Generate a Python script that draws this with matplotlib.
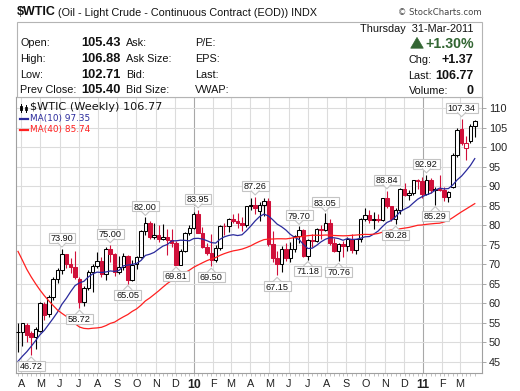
import numpy as np
import pandas as pd
import matplotlib
matplotlib.use("Agg")
import matplotlib.pyplot as plt
from matplotlib.patches import Rectangle, Polygon
from matplotlib.lines import Line2D
import matplotlib.transforms as mtransforms

W, H = 520, 391

# ---------------- data (weekly, from week of 2009-03-30) ----------------
first_monday = "2009-03-30"
opens = [52.6, 52.5, 54.5, 52.3, 51.3, 53.0, 59.8, 57.3, 61.6, 66.3,
         68.5, 72.5, 70.0, 69.2, 66.3, 60.2, 64.0, 68.0, 69.5, 70.9,
         67.5, 73.9, 72.7, 68.0, 69.3, 72.0, 66.0, 70.0, 71.8, 78.5,
         80.5, 77.0, 77.4, 76.4, 77.0, 76.1, 75.5, 69.9, 73.4, 78.0,
         79.4, 82.8, 78.0, 74.5, 72.9, 71.2, 74.1, 79.8, 79.7, 81.5,
         81.2, 80.7, 80.0, 84.9, 85.2, 83.6, 85.2, 86.2, 75.1, 71.6,
         70.0, 74.0, 71.5, 73.8, 77.2, 78.9, 72.1, 76.1, 76.0, 79.0,
         78.9, 80.7, 75.4, 73.5, 75.2, 74.6, 76.5, 73.7, 76.5, 81.6,
         82.7, 81.3, 81.7, 81.4, 86.9, 84.9, 81.5, 83.8, 89.2, 87.8,
         88.4, 91.5, 91.4, 88.0, 91.5, 89.1, 89.3, 89.0, 87.3, 89.7,
         97.9, 104.8, 99.8, 101.5, 105.4]
highs = [54.8, 55.0, 54.9, 52.8, 54.0, 60.3, 60.3, 62.2, 66.6, 69.0,
         73.90, 72.7, 71.5, 73.4, 66.6, 64.4, 68.6, 70.0, 73.2, 71.8,
         74.3, 75.00, 73.0, 72.0, 73.0, 72.4, 71.2, 72.0, 78.9, 82.00,
         81.0, 80.5, 80.0, 80.2, 79.0, 79.0, 75.9, 74.0, 78.2, 80.0,
         83.5, 83.95, 79.6, 75.5, 77.8, 75.0, 80.0, 80.5, 81.9, 82.8,
         83.2, 82.0, 85.0, 87.1, 87.26, 85.9, 87.0, 87.1, 78.5, 73.5,
         74.8, 75.5, 75.8, 77.6, 79.70, 79.0, 76.4, 77.8, 79.4, 80.0,
         83.05, 81.5, 76.7, 75.5, 76.0, 77.0, 77.8, 76.6, 81.8, 84.4,
         84.0, 83.5, 83.0, 87.1, 88.84, 85.0, 84.3, 89.5, 90.8, 89.0,
         91.6, 91.9, 92.5, 92.92, 92.0, 89.8, 93.0, 89.8, 88.8, 98.5,
         105.0, 107.34, 103.0, 106.0, 106.9]
lows = [47.6, 49.0, 50.0, 46.72, 48.2, 52.6, 55.8, 56.5, 60.8, 65.2,
        67.5, 69.0, 67.8, 66.2, 58.72, 59.3, 63.5, 63.0, 69.0, 66.8,
        66.0, 70.5, 67.1, 67.5, 68.5, 65.05, 65.8, 68.8, 71.5, 77.6,
        76.5, 76.5, 75.8, 76.2, 72.4, 74.5, 69.81, 69.85, 73.2, 77.5,
        79.0, 77.9, 74.2, 72.4, 69.50, 70.6, 73.6, 77.4, 78.3, 80.6,
        79.2, 78.6, 79.6, 84.0, 83.0, 81.2, 82.4, 74.8, 70.5, 67.15,
        68.0, 70.8, 70.7, 73.2, 75.4, 71.8, 71.18, 74.5, 75.6, 76.5,
        78.6, 75.0, 73.2, 70.76, 71.8, 73.4, 73.0, 72.6, 75.7, 81.0,
        80.6, 79.0, 80.8, 81.0, 84.5, 81.0, 80.28, 83.0, 87.5, 86.6,
        87.8, 89.3, 87.0, 87.8, 88.4, 85.29, 88.8, 86.2, 86.0, 89.5,
        97.5, 100.5, 96.7, 101.0, 102.71]
closes = [52.5, 54.8, 51.8, 51.3, 53.4, 60.0, 57.0, 61.6, 66.3, 68.5,
          72.6, 70.0, 69.2, 66.8, 60.2, 64.0, 68.1, 69.5, 70.9, 67.5,
          73.9, 72.7, 68.0, 69.3, 72.0, 66.0, 69.9, 71.8, 78.5, 80.5,
          77.0, 77.4, 76.4, 77.0, 76.1, 75.5, 69.9, 73.4, 78.0, 79.4,
          82.8, 78.0, 74.5, 72.9, 71.2, 74.1, 79.8, 79.7, 81.5, 81.2,
          80.7, 80.0, 84.9, 85.0, 84.3, 85.1, 86.2, 75.1, 71.6, 70.0,
          74.0, 71.5, 73.8, 77.2, 78.9, 72.1, 76.1, 76.0, 79.0, 78.9,
          80.7, 75.4, 73.5, 75.2, 74.6, 76.5, 73.7, 76.5, 81.6, 82.7,
          81.3, 81.7, 81.4, 86.9, 84.9, 81.5, 83.8, 89.2, 87.8, 88.4,
          91.5, 91.4, 88.0, 91.5, 89.1, 89.3, 89.0, 87.3, 88.6, 97.9,
          104.4, 101.2, 101.1, 105.4, 106.77]
# weekly closes before the chart window (needed for the moving averages)
prior_closes = [145.3, 145.1, 128.9, 123.3, 125.1, 115.2, 113.8, 114.6, 115.5, 106.2,
                101.2, 104.6, 106.9, 93.9, 77.7, 71.9, 64.2, 67.8, 61.0, 57.0,
                49.9, 54.4, 40.8, 46.3, 42.4, 37.7, 46.3, 40.8, 36.5, 46.5,
                41.7, 40.2, 37.5, 38.9, 44.8, 45.5, 46.3, 51.1, 52.4]
high_label_idx = [10, 21, 29, 41, 54, 64, 70, 84, 93, 101]
low_label_idx = [3, 14, 25, 36, 44, 59, 66, 73, 86, 95]
y_ticks = list(range(45, 111, 5))
month_starts = pd.date_range("2009-04-01", "2011-03-01", freq="MS")

title_symbol = "$WTIC"
title_rest = "(Oil - Light Crude - Continuous Contract (EOD)) INDX"
hdr_labels1 = ["Open:", "High:", "Low:", "Prev Close:"]
hdr_values = ["105.43", "106.88", "102.71", "105.40"]
hdr_labels2 = ["Ask:", "Ask Size:", "Bid:", "Bid Size:"]
hdr_labels3 = ["P/E:", "EPS:", "Last:", "VWAP:"]
hdr_date = "Thursday  31-Mar-2011"
hdr_pct = "+1.30%"
hdr_right = [("Chg:", "+1.37"), ("Last:", "106.77"), ("Volume:", "0")]
legend_main = "$WTIC (Weekly) 106.77"
legend_ma10 = "MA(10) 97.35"
legend_ma40 = "MA(40) 85.74"

# ---------------- styling ----------------
SANS = ["Liberation Sans", "DejaVu Sans"]
VER = ["DejaVu Sans"]
RED = "#d0103a"
MA10_C = "#2a2a9c"
MA40_C = "#ff2020"
GREEN = "#336633"
GRID = "#dcdcdc"
YEAR = "#a8a8a8"

fig = plt.figure(figsize=(W / 100, H / 100), dpi=100)
fig.patch.set_facecolor("white")
PIX = mtransforms.Affine2D().scale(1, -1).translate(0, H)
renderer = fig.canvas.get_renderer()


def ptext(x, y, s, **kw):
    kw.setdefault("va", "center")
    kw.setdefault("parse_math", False)
    return fig.text(x, y, s, transform=PIX, **kw)


# ---------------- header ----------------
fig.add_artist(Rectangle((16.5, 21.5), 465.5, 75.5, transform=PIX,
                         fc="white", ec="#b4b4b4", lw=0.8))
t_sym = ptext(16.5, 12, title_symbol, family=SANS, fontsize=9.0, weight="bold",
              color="#111")
sym_w = t_sym.get_window_extent(renderer).width
ptext(16.5 + sym_w + 2.5, 12.5, title_rest, family=SANS, fontsize=7.8, color="#111")
ptext(481.5, 12.5, "\u00a9 StockCharts.com", family=VER, fontsize=6.1,
      color="#444", ha="right")

rows_y = [43.5, 59.5, 75.5, 90.0]
for y, a, b, c, d in zip(rows_y, hdr_labels1, hdr_values, hdr_labels2, hdr_labels3):
    ptext(20.5, y, a, family=SANS, fontsize=7.8, color="#111")
    ptext(81.5, y, b, family=SANS, fontsize=9.3, weight="bold", color="#111")
    ptext(126, y, c, family=SANS, fontsize=7.8, color="#111")
    ptext(195, y, d, family=SANS, fontsize=7.8, color="#111")

ptext(473.5, 29.5, hdr_date, family=SANS, fontsize=7.8, color="#111", ha="right")
fig.add_artist(Polygon([(410.7, 48.2), (417.0, 37.4), (423.3, 48.2)], closed=True,
                       transform=PIX, fc=GREEN, ec=GREEN, lw=0.5))
ptext(473.5, 43.5, hdr_pct, family=SANS, fontsize=10.2, weight="bold",
      color=GREEN, ha="right")
for y, (lab, val) in zip([60, 76, 90.5], hdr_right):
    ptext(408.5, y, lab, family=SANS, fontsize=7.8, color="#111")
    ptext(473.5, y, val, family=SANS, fontsize=9.0, weight="bold",
          color="#111", ha="right")

# ---------------- price chart ----------------
ax = fig.add_axes([16 / W, 1 - 373 / H, 466 / W, 276 / H])
ax.set_facecolor("white")
ref = pd.Timestamp("2010-01-01")
dates = pd.date_range(first_monday, periods=len(closes), freq="7D")
xs = np.array([(d - ref).days - 3.5 for d in dates], dtype=float)
ax.set_xlim(-283.7, 459.0)
ax.set_ylim(42.1, 112.9)

month_pos = [(m - ref).days for m in month_starts]
month_lab = [str(m.year)[2:] if m.month == 1 else m.strftime("%b")[0] for m in month_starts]
for m, mp in zip(month_starts, month_pos):
    ax.axvline(mp, color=YEAR if m.month == 1 else GRID, lw=0.8, zorder=0)
for v in y_ticks:
    ax.axhline(v, color=GRID, lw=0.8, zorder=0)

bw = 5.6
prev = prior_closes[-1]
for x, o, h, l, c in zip(xs, opens, highs, lows, closes):
    col = RED if c < prev else "black"
    ax.vlines(x, l, h, color=col, lw=0.8, zorder=3)
    bottom = min(o, c)
    height = max(abs(c - o), 0.18)
    face = "white" if c >= o else col
    ax.add_patch(Rectangle((x - bw / 2, bottom), bw, height, fc=face, ec=col,
                           lw=0.75, zorder=3.5))
    prev = c

allc = pd.Series(prior_closes + closes)
n0 = len(prior_closes)
ma10 = allc.rolling(10).mean().values[n0:]
ma40 = allc.rolling(40).mean().values[n0:]
ax.plot(xs, ma10, color=MA10_C, lw=0.9, zorder=4)
ax.plot(xs, ma40, color=MA40_C, lw=0.9, zorder=4)

ax.yaxis.tick_right()
ax.set_yticks(y_ticks)
ax.set_yticklabels([str(v) for v in y_ticks], family=SANS, fontsize=7.8, color="#222")
ax.tick_params(axis="y", length=3, width=0.6, color="#999999", pad=2)
ax.set_xticks(month_pos)
ax.set_xticklabels(month_lab, family=SANS, fontsize=7.8, color="#222")
for lbl, t in zip(ax.get_xticklabels(), month_lab):
    if t.isdigit():
        lbl.set_fontweight("bold")
        lbl.set_fontsize(8.8)
ax.tick_params(axis="x", which="major", length=0, pad=4.5)
ax.set_xticks(xs, minor=True)
ax.tick_params(axis="x", which="minor", length=2, width=0.5, color="#aaaaaa")
for sp in ax.spines.values():
    sp.set_color("#a0a0a0")
    sp.set_linewidth(0.8)

# ---------------- legend inside plot ----------------
icon = [((20.0, 105.5), 2.4, 4.5, "black"), ((24.6, 106.5), 2.4, 3.0, "white")]
for (x0, y0), w, hh, fc in icon:
    cx = x0 + w / 2
    fig.add_artist(Line2D([cx, cx], [y0 - 2.0, y0 + hh + 2.0], transform=PIX,
                          color="black", lw=0.7))
    fig.add_artist(Rectangle((x0, y0), w, hh, transform=PIX, fc=fc, ec="black", lw=0.6))
ptext(30.5, 107.5, legend_main, family=VER, fontsize=8.1, color="#111")
fig.add_artist(Line2D([19.5, 28], [119, 119], transform=PIX, color=MA10_C, lw=1.6))
ptext(29.5, 119, legend_ma10, family=VER, fontsize=6.4, color=MA10_C)
fig.add_artist(Line2D([19.5, 28], [129.5, 129.5], transform=PIX, color=MA40_C, lw=1.6))
ptext(29.5, 129.5, legend_ma40, family=VER, fontsize=6.4, color=MA40_C)

# ---------------- high / low callouts ----------------
IDT = mtransforms.IdentityTransform()


def callout(i, val, above):
    px, py = ax.transData.transform((xs[i], val))
    cy = py + 11 if above else py - 11
    t = ax.text(px, cy - 3.2, f"{val:.2f}", transform=IDT, ha="center", va="baseline",
                family=SANS, fontsize=6.6, color="#111", zorder=8, clip_on=False)
    w = t.get_window_extent(renderer).width + 4
    ax.add_patch(Rectangle((px - w / 2, cy - 5), w, 10, transform=IDT, fc="white",
                           ec="#c4c4c4", lw=0.8, zorder=6, clip_on=False))
    edge = cy - 5 if above else cy + 5
    tip = py + 2 if above else py - 2
    ax.add_patch(Polygon([(px - 4, edge), (px, tip), (px + 4, edge)], closed=True,
                         transform=IDT, fc="white", ec="none", zorder=6.5, clip_on=False))
    ax.add_line(Line2D([px - 4, px, px + 4], [edge, tip, edge], transform=IDT,
                       color="#c4c4c4", lw=0.8, zorder=6.6, clip_on=False))


for i in high_label_idx:
    callout(i, highs[i], True)
for i in low_label_idx:
    callout(i, lows[i], False)

fig.savefig("out.png", dpi=100, facecolor="white")
